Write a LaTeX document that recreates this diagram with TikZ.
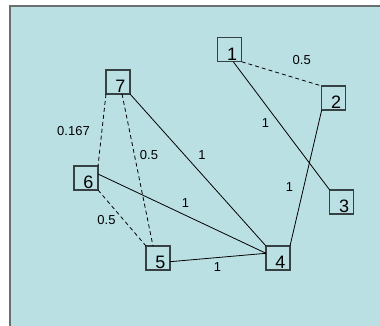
\documentclass[tikz,border=0pt]{standalone}
\usepackage{fontspec}
\setmainfont{Liberation Sans}
\definecolor{bgblue}{RGB}{186,224,228}
\definecolor{framegray}{RGB}{105,112,112}
\definecolor{boxgray}{RGB}{55,65,65}
\begin{document}
\begin{tikzpicture}[x=1pt,y=-1pt,
 nbox/.style={draw=boxgray, line width=1.2pt, minimum size=24pt, inner sep=0pt, outer sep=0pt},
 numtxt/.style={font=\fontsize{18}{18}\selectfont, inner sep=0pt, text=black},
 wlabel/.style={font=\fontsize{13}{13}\selectfont, inner sep=0pt, text=black},
 sol/.style={draw=black, line width=0.8pt},
 dsh/.style={draw=black, line width=0.8pt, dash pattern=on 4pt off 3pt}]
\useasboundingbox (0,0) rectangle (380,326);
\fill[bgblue] (9,5) rectangle (380,326);
\draw[framegray, line width=2pt] (10,326) -- (10,6) -- (380,6);
% nodes
\node[nbox] (n1) at (229.7,49.8) {};
\node[nbox] (n2) at (333.7,98) {};
\node[nbox] (n3) at (341.7,202) {};
\node[nbox] (n4) at (278,258) {};
\node[nbox] (n5) at (158,258) {};
\node[nbox] (n6) at (86,178) {};
\node[nbox] (n7) at (118,82) {};
% edges
\draw[dsh] (n1.south east) -- (n2.north west);
\draw[sol] ([xshift=3.6pt]n1.south) -- (n3.north west);
\draw[sol] (n4.north east) -- (n2.south west);
\draw[sol] (n7.south east) -- (n4.north west);
\draw[sol] ([yshift=4pt]n6.east) -- ([yshift=4.7pt]n4.west);
\draw[sol] ([yshift=-3.7pt]n5.east) -- ([yshift=4.7pt]n4.west);
\draw[dsh] (n7.south west) -- (n6.north east);
\draw[dsh] ([xshift=4pt]n7.south) -- ([xshift=-5pt]n5.north);
\draw[dsh] (n6.south east) -- (n5.north west);
% node numbers
\node[numtxt] (t1) at ([xshift=2.5pt,yshift=-4.5pt]n1.center) {1};
\node[numtxt] (t2) at ([xshift=2.5pt,yshift=-4.5pt]n2.center) {2};
\node[numtxt] (t3) at ([xshift=2.5pt,yshift=-4.5pt]n3.center) {3};
\node[numtxt] (t4) at ([xshift=2.5pt,yshift=-4.5pt]n4.center) {4};
\node[numtxt] (t5) at ([xshift=2.5pt,yshift=-4.5pt]n5.center) {5};
\node[numtxt] (t6) at ([xshift=2.5pt,yshift=-4.5pt]n6.center) {6};
\node[numtxt] (t7) at ([xshift=2.5pt,yshift=-4.5pt]n7.center) {7};
% edge labels
\node[wlabel] (l12) at (301.7,60) {0.5};
\node[wlabel] (l13) at (265.5,123) {1};
\node[wlabel] (l24) at (289.5,187.5) {1};
\node[wlabel] (l74) at (202,155) {1};
\node[wlabel] (l64) at (185.5,203) {1};
\node[wlabel] (l54) at (217.5,267.5) {1};
\node[wlabel] (l76) at (73.5,131.5) {0.167};
\node[wlabel] (l75) at (149,155) {0.5};
\node[wlabel] (l65) at (106.5,220) {0.5};
\end{tikzpicture}
\end{document}
